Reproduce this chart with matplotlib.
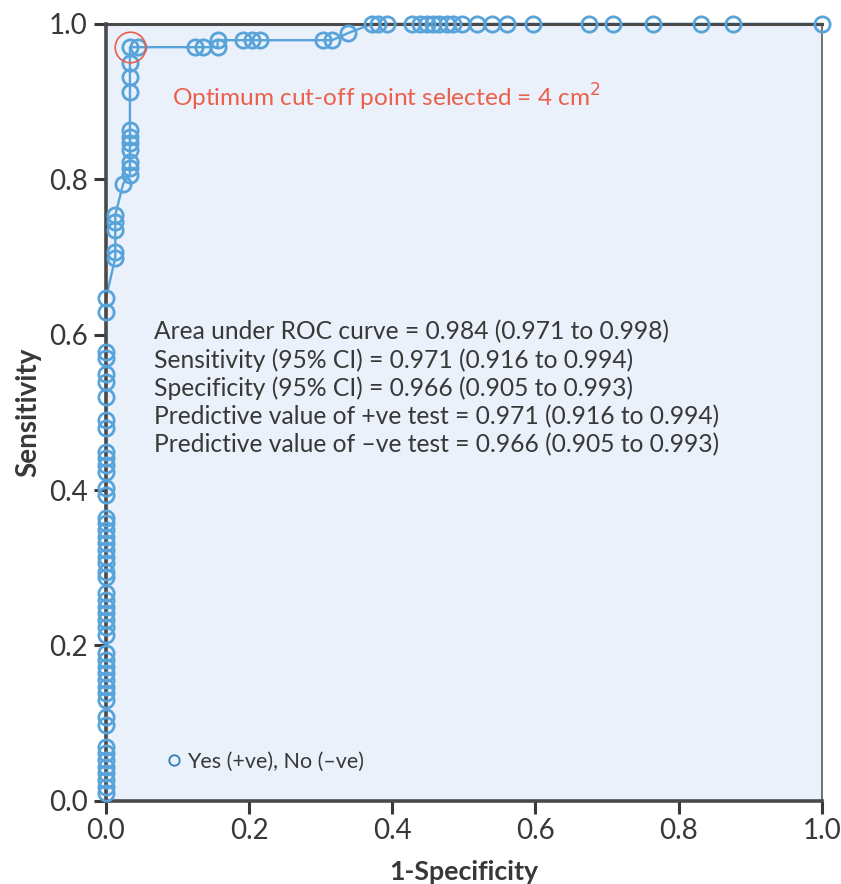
import matplotlib
matplotlib.use("Agg")
import matplotlib.pyplot as plt

# ROC curve points (1-specificity, sensitivity)
fpr = [0.0] * 50 + [0.013, 0.013, 0.013, 0.013, 0.013, 0.024,
       0.0335, 0.0335, 0.0335, 0.0335, 0.0335, 0.0335, 0.0335, 0.0335, 0.0335, 0.0335, 0.0335,
       0.045, 0.124, 0.135, 0.156, 0.156, 0.191, 0.204, 0.215, 0.303, 0.316, 0.338,
       0.372, 0.380, 0.392, 0.427, 0.439, 0.448, 0.457, 0.466, 0.476, 0.485, 0.497,
       0.518, 0.539, 0.561, 0.596, 0.675, 0.708, 0.764, 0.832, 0.876, 1.0]
tpr = [0.010, 0.018, 0.027, 0.036, 0.044, 0.053, 0.062, 0.069, 0.098, 0.108,
       0.130, 0.139, 0.147, 0.156, 0.165, 0.172, 0.181, 0.190, 0.214, 0.224,
       0.233, 0.242, 0.250, 0.259, 0.268, 0.288, 0.295, 0.306, 0.314, 0.323,
       0.332, 0.340, 0.349, 0.358, 0.364, 0.394, 0.403, 0.423, 0.432, 0.441,
       0.449, 0.480, 0.490, 0.520, 0.539, 0.550, 0.570, 0.578, 0.629, 0.647,
       0.699, 0.707, 0.735, 0.745, 0.754, 0.794,
       0.806, 0.815, 0.822, 0.838, 0.847, 0.855, 0.864, 0.912, 0.931, 0.950, 0.970,
       0.970, 0.970, 0.970, 0.970, 0.979, 0.979, 0.979, 0.979, 0.979, 0.979, 0.988,
       1.0, 1.0, 1.0, 1.0, 1.0, 1.0, 1.0, 1.0, 1.0, 1.0, 1.0,
       1.0, 1.0, 1.0, 1.0, 1.0, 1.0, 1.0, 1.0, 1.0, 1.0]
optimum = (0.0335, 0.970)
ticks = [0.0, 0.2, 0.4, 0.6, 0.8, 1.0]
stats_lines = [
    "Area under ROC curve = 0.984 (0.971 to 0.998)",
    "Sensitivity (95% CI) = 0.971 (0.916 to 0.994)",
    "Specificity (95% CI) = 0.966 (0.905 to 0.993)",
    "Predictive value of +ve test = 0.971 (0.916 to 0.994)",
    "Predictive value of \u2013ve test = 0.966 (0.905 to 0.993)",
]

plt.rcParams['font.family'] = ['Lato', 'DejaVu Sans']
TXT = '#383838'
BLUE = '#58a3da'
RED = '#ec5f4b'

fig = plt.figure(figsize=(8.41, 8.84), dpi=100)
ax = fig.add_axes([0.126, 0.094, 0.851, 0.879])
ax.set_facecolor('#eaf1fa')

ax.plot([0.0] + fpr, [0.0] + tpr, color=BLUE, lw=1.7, zorder=2, clip_on=False)
ax.plot(fpr, tpr, linestyle='none', marker='o', markersize=11, markerfacecolor='none',
        markeredgecolor=BLUE, markeredgewidth=2.0, zorder=3, clip_on=False)
ax.plot([optimum[0]], [optimum[1]], linestyle='none', marker='o', markersize=22,
        markerfacecolor='none', markeredgecolor=RED, markeredgewidth=1.2, zorder=4, clip_on=False)

ax.text(0.092, 0.906, "Optimum cut-off point selected = 4 cm$^{2}$", color=RED,
        fontsize=17.6, va='center', ha='left')
for i, line in enumerate(stats_lines):
    ax.text(0.067, 0.604 - i * 0.0365, line, color=TXT, fontsize=17.7, va='center', ha='left')

ax.plot([0.095], [0.052], linestyle='none', marker='o', markersize=7.5, markerfacecolor='none',
        markeredgecolor='#2d7fb8', markeredgewidth=1.3)
ax.text(0.113, 0.050, "Yes (+ve), No (\u2013ve)", color=TXT, fontsize=15.5, va='center', ha='left')

ax.set_xlim(0, 1)
ax.set_ylim(0, 1)
ax.set_xticks(ticks)
ax.set_yticks(ticks)
ax.set_xticklabels([f"{t:.1f}" for t in ticks])
ax.set_yticklabels([f"{t:.1f}" for t in ticks])
ax.tick_params(axis='both', labelsize=20, colors=TXT, length=9, width=2.2, direction='out')
ax.tick_params(axis='x', pad=3)
ax.tick_params(axis='y', pad=4)
for side in ['left', 'bottom']:
    ax.spines[side].set_linewidth(2.6)
    ax.spines[side].set_color('#4a4a4a')
ax.spines['top'].set_linewidth(2.2)
ax.spines['top'].set_color('#4a4a4a')
ax.spines['right'].set_linewidth(1.2)
ax.spines['right'].set_color('#5a5a5a')

ax.set_xlabel("1-Specificity", fontsize=19.3, fontweight='bold', color=TXT, labelpad=12)
ax.set_ylabel("Sensitivity", fontsize=20, fontweight='bold', color=TXT, labelpad=6)

fig.savefig("out.png", dpi=100, facecolor='white')
